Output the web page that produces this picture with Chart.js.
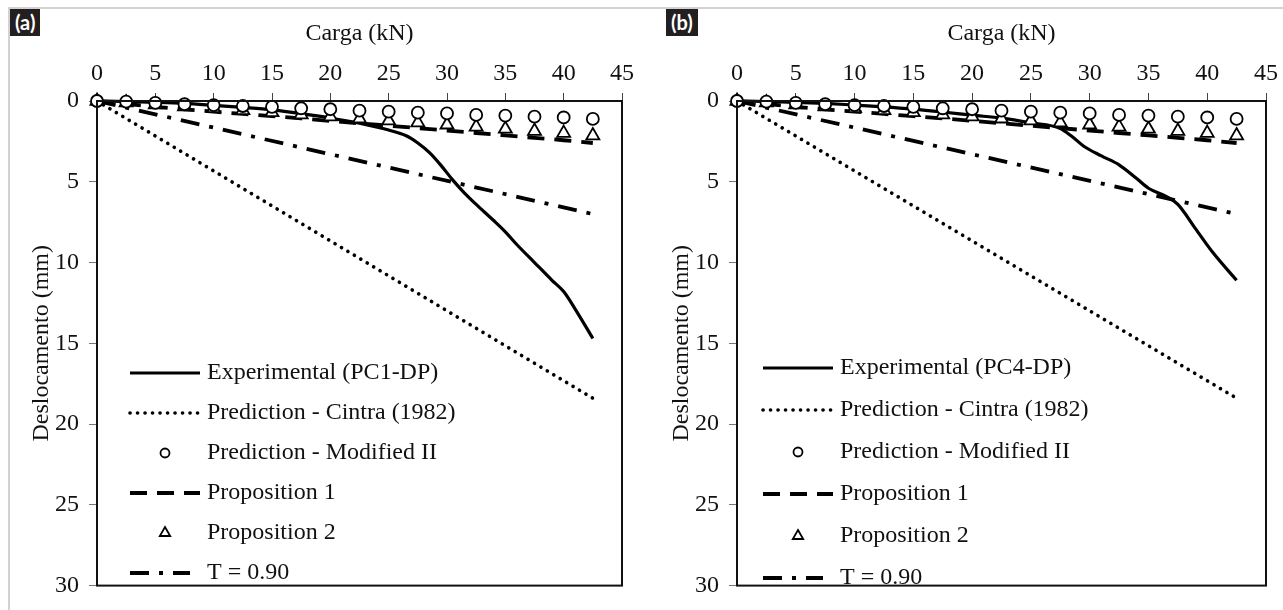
<!DOCTYPE html>
<html>
<head>
<meta charset="utf-8">
<script src="https://cdn.jsdelivr.net/npm/chart.js@4.4.0/dist/chart.umd.min.js"></script>
<style>
  body { margin: 0; background: #fff; }
  #wrap { position: relative; width: 1283px; height: 610px; overflow: hidden; background: #fff; }
  .frame { position: absolute; left: 8px; top: 7px; right: -4px; bottom: -4px;
           border-top: 2px solid #d2d2d2; border-left: 2px solid #d2d2d2; }
  .panel { position: absolute; top: 0; }
  .tag { position: absolute; top: 9px; height: 27px; padding: 0 5px; background: #231f20; color: #fff;
         font: bold 20px Lato, "Open Sans", sans-serif; line-height: 26px; }
</style>
</head>
<body>
<div id="wrap">
  <div class="frame"></div>
  <canvas id="chartA" class="panel" width="640" height="610" style="left:0"></canvas>
  <canvas id="chartB" class="panel" width="643" height="610" style="left:640px"></canvas>
  <div class="tag" style="left:10px">(a)</div>
  <div class="tag" style="left:666px">(b)</div>
</div>
<script>
// load (kN) steps used by the predictions
const loadSteps = [0, 2.5, 5, 7.5, 10, 12.5, 15, 17.5, 20, 22.5, 25, 27.5, 30, 32.5, 35, 37.5, 40, 42.5];
const modifiedII = [0, 0.04, 0.12, 0.2, 0.25, 0.31, 0.36, 0.45, 0.51, 0.6, 0.66, 0.72, 0.77, 0.86, 0.9, 0.97, 1.02, 1.11];
const proposition1 = [0, 0.18, 0.36, 0.52, 0.66, 0.8, 0.94, 1.08, 1.23, 1.38, 1.53, 1.68, 1.83, 1.98, 2.13, 2.28, 2.43, 2.6];
const proposition2 = [0, 0.1, 0.22, 0.34, 0.46, 0.58, 0.71, 0.84, 0.97, 1.1, 1.22, 1.34, 1.47, 1.6, 1.73, 1.86, 1.99, 2.14];
const cintraLoad = [0, 42.5];
const cintraDisp = [0, 18.4];
const t090Load = [0, 42.5];
const t090Disp = [0, 7.0];

// experimental curves
const pc1Load = [0, 2.5, 5, 7.5, 10, 12.5, 15, 17.5, 20, 22.5, 25, 26.5, 27.5, 28.5, 29.5, 30.5, 31.5, 32.5, 34, 35, 36, 37.5, 39, 40, 41, 42.5];
const pc1Disp = [0, 0.03, 0.08, 0.15, 0.27, 0.4, 0.55, 0.78, 1.05, 1.38, 1.8, 2.15, 2.6, 3.2, 4.0, 4.9, 5.7, 6.4, 7.4, 8.1, 8.9, 10.0, 11.1, 11.8, 12.9, 14.7];
const pc4Load = [0, 2.5, 5, 7.5, 10, 12.5, 15, 17.5, 20, 22.5, 25, 27.5, 28.5, 29.5, 31, 32.5, 34, 35, 36.5, 37.5, 39, 40.5, 42.5];
const pc4Disp = [0, 0.03, 0.08, 0.15, 0.25, 0.36, 0.5, 0.68, 0.88, 1.06, 1.35, 1.7, 2.2, 2.8, 3.4, 3.95, 4.8, 5.4, 5.9, 6.4, 7.9, 9.4, 11.1];

const xTicks = [0, 5, 10, 15, 20, 25, 30, 35, 40, 45];
const yTicks = [0, 5, 10, 15, 20, 25, 30];
const legendNames = ['Prediction - Cintra (1982)', 'Prediction - Modified II', 'Proposition 1', 'Proposition 2', 'T = 0.90'];

Chart.defaults.font.family = '"Liberation Serif", "Times New Roman", serif';
Chart.defaults.color = '#111';

const pts = (xs, ys) => xs.map((x, i) => ({ x, y: ys[i] }));

// black box round the plot area
const frameBox = {
  id: 'frameBox',
  afterDraw(chart) {
    const { ctx, chartArea: a } = chart;
    ctx.save();
    ctx.strokeStyle = '#111';
    ctx.lineWidth = 2;
    ctx.strokeRect(a.left, a.top, a.right - a.left, a.bottom - a.top);
    ctx.restore();
  }
};

// legend drawn inside the plot area, lower left
const legendInside = {
  id: 'legendInside',
  afterDraw(chart, args, o) {
    const ctx = chart.ctx;
    ctx.save();
    chart.data.datasets.forEach((ds, i) => {
      const y = o.top + i * o.step;
      ctx.strokeStyle = '#000';
      ctx.fillStyle = '#fff';
      if (ds.showLine) {
        ctx.lineWidth = ds.borderWidth;
        ctx.setLineDash(ds.borderDash || []);
        ctx.lineCap = ds.borderCapStyle || 'butt';
        ctx.beginPath();
        ctx.moveTo(o.x0, y);
        ctx.lineTo(o.x0 + (ds.sampleLen || 70), y);
        ctx.stroke();
      } else {
        ctx.setLineDash([]);
        ctx.lineWidth = ds.pointBorderWidth;
        Chart.helpers.drawPoint(ctx, { pointStyle: ds.pointStyle, radius: ds.pointRadius - 1.5,
          borderWidth: ds.pointBorderWidth, rotation: 0 }, o.x0 + 35, y);
      }
      ctx.setLineDash([]);
      ctx.fillStyle = '#111';
      ctx.font = '24px "Liberation Serif"';
      ctx.textBaseline = 'middle';
      ctx.fillText(ds.label, o.textX, y);
    });
    ctx.restore();
  }
};

function buildChart(id, expLoad, expDisp, expName, lay) {
  const datasets = [
    { label: expName, data: pts(expLoad, expDisp), showLine: true, borderColor: '#000', borderWidth: 3.2,
      pointRadius: 0, cubicInterpolationMode: 'monotone', order: 2 },
    { label: legendNames[0], data: pts(cintraLoad, cintraDisp), showLine: true, borderColor: '#000',
      borderWidth: 3.6, borderDash: [0.1, 7.4], borderCapStyle: 'round', pointRadius: 0, order: 3 },
    { label: legendNames[1], data: pts(loadSteps, modifiedII), showLine: false, pointStyle: 'circle',
      pointRadius: 6, pointBorderWidth: 1.8, pointBackgroundColor: '#fff', pointBorderColor: '#000', order: 0 },
    { label: legendNames[2], data: pts(loadSteps, proposition1), showLine: true, borderColor: '#000',
      borderWidth: 3.8, borderDash: [17, 10], pointRadius: 0, order: 4 },
    { label: legendNames[3], data: pts(loadSteps, proposition2), showLine: false, pointStyle: 'triangle',
      pointRadius: 7.5, pointBorderWidth: 1.8, pointBackgroundColor: '#fff', pointBorderColor: '#000', order: 1 },
    { label: legendNames[4], data: pts(t090Load, t090Disp), showLine: true, borderColor: '#000',
      borderWidth: 3.8, borderDash: [19, 10, 4, 10], pointRadius: 0, order: 5, sampleLen: 60 }
  ];
  datasets.forEach(d => { d.clip = false; });

  return new Chart(document.getElementById(id), {
    type: 'scatter',
    data: { datasets },
    plugins: [frameBox, legendInside],
    options: {
      responsive: false,
      animation: false,
      events: [],
      layout: { padding: { left: 0, top: 0, right: lay.right, bottom: lay.bottom } },
      plugins: {
        legend: { display: false },
        tooltip: { enabled: false },
        legendInside: { x0: lay.legendX, textX: lay.legendX + 77, top: lay.legendTop, step: lay.legendStep }
      },
      scales: {
        x: {
          type: 'linear', position: 'top', min: 0, max: 45,
          afterBuildTicks: s => { s.ticks = xTicks.map(v => ({ value: v })); },
          afterFit: s => { s.height = 101; },
          ticks: { font: { size: 24 }, color: '#111', padding: 5, maxRotation: 0 },
          grid: { drawOnChartArea: false, drawTicks: true, tickLength: 8, color: '#444' },
          border: { display: false },
          title: { display: true, text: 'Carga (kN)', font: { size: 24 }, color: '#111', padding: { top: 19, bottom: 0 } }
        },
        y: {
          type: 'linear', reverse: true, min: 0, max: 30,
          afterBuildTicks: s => { s.ticks = yTicks.map(v => ({ value: v })); },
          afterFit: s => { s.width = 97; },
          ticks: { font: { size: 24 }, color: '#111', padding: 10 },
          grid: { drawOnChartArea: false, drawTicks: true, tickLength: 8, color: '#777' },
          border: { display: false },
          title: { display: true, text: 'Deslocamento (mm)', font: { size: 24 }, color: '#111', padding: { top: 27, bottom: 0 } }
        }
      }
    }
  });
}

buildChart('chartA', pc1Load, pc1Disp, 'Experimental (PC1-DP)',
  { right: 18, bottom: 22, legendX: 130, legendTop: 373, legendStep: 40 });
buildChart('chartB', pc4Load, pc4Disp, 'Experimental (PC4-DP)',
  { right: 17, bottom: 18, legendX: 123, legendTop: 368, legendStep: 42 });
</script>
</body>
</html>
